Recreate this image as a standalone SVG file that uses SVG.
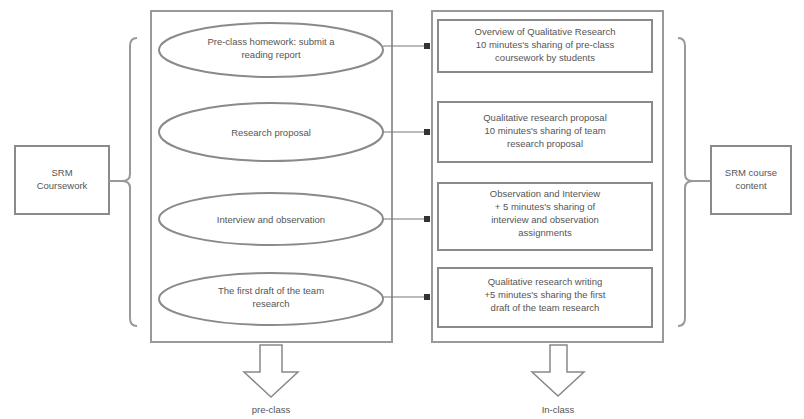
<svg xmlns="http://www.w3.org/2000/svg" width="804" height="419" viewBox="0 0 804 419">
<defs>
<style>
.box{fill:#fff;stroke:#8a8a8a;stroke-width:2}
.panel{fill:#fff;stroke:#999;stroke-width:2}
.ell{fill:#fff;stroke:#8a8a8a;stroke-width:2}
.t{font-family:"Liberation Sans",Arial,sans-serif;font-size:9.5px;fill:#555;text-anchor:middle}
.brace{fill:none;stroke:#999;stroke-width:2}
.con{fill:none;stroke:#777;stroke-width:1.2}
.darrow{fill:#fff;stroke:#888;stroke-width:1.5}
</style>
<marker id="sq" viewBox="0 0 6 6" refX="6" refY="3" markerWidth="6" markerHeight="6" markerUnits="userSpaceOnUse" orient="auto">
<rect x="0" y="0" width="6" height="6" fill="#333"/>
</marker>
</defs>
<rect width="804" height="419" fill="#fff"/>

<g id="srm-coursework">
<rect class="box" x="15" y="146" width="94" height="68"/>
<text class="t" x="62" y="176">SRM</text>
<text class="t" x="62" y="189">Coursework</text>
</g>

<g id="left-brace">
<path class="brace" d="M137,38 Q130,38 130,46 L130,174 Q130,181 122,181 Q130,181 130,188 L130,318 Q130,326 137,326"/>
<line class="brace" x1="109" y1="181" x2="122" y2="181"/>
</g>

<g id="pre-class-panel">
<rect class="panel" x="151" y="11" width="241" height="331"/>
</g>

<g id="e1">
<ellipse class="ell" cx="271" cy="50" rx="112" ry="27"/>
<text class="t" x="271" y="45">Pre-class homework: submit a</text>
<text class="t" x="271" y="58">reading report</text>
</g>
<g id="e2">
<ellipse class="ell" cx="271" cy="132" rx="112" ry="29"/>
<text class="t" x="271" y="136">Research proposal</text>
</g>
<g id="e3">
<ellipse class="ell" cx="271" cy="219" rx="112" ry="26"/>
<text class="t" x="271" y="223">Interview and observation</text>
</g>
<g id="e4">
<ellipse class="ell" cx="271" cy="299" rx="112" ry="26"/>
<text class="t" x="271" y="294">The first draft of the team</text>
<text class="t" x="271" y="307">research</text>
</g>

<g id="in-class-panel">
<rect class="panel" x="432" y="11" width="231" height="331"/>
</g>

<g id="b1">
<rect class="box" x="438" y="20" width="214" height="52"/>
<text class="t" x="545" y="35">Overview of Qualitative Research</text>
<text class="t" x="545" y="48">10 minutes's sharing of pre-class</text>
<text class="t" x="545" y="61">coursework by students</text>
</g>
<g id="b2">
<rect class="box" x="438" y="102" width="214" height="60"/>
<text class="t" x="545" y="121">Qualitative research proposal</text>
<text class="t" x="545" y="134">10 minutes's sharing of team</text>
<text class="t" x="545" y="147">research proposal</text>
</g>
<g id="b3">
<rect class="box" x="438" y="183" width="214" height="67"/>
<text class="t" x="545" y="197">Observation and Interview</text>
<text class="t" x="545" y="210">+ 5 minutes's sharing of</text>
<text class="t" x="545" y="223">interview and observation</text>
<text class="t" x="545" y="236">assignments</text>
</g>
<g id="b4">
<rect class="box" x="438" y="268" width="214" height="59"/>
<text class="t" x="545" y="285">Qualitative research writing</text>
<text class="t" x="545" y="298">+5 minutes's sharing the first</text>
<text class="t" x="545" y="311">draft of the team research</text>
</g>

<g id="connectors">
<line class="con" x1="383" y1="46" x2="430" y2="46" marker-end="url(#sq)"/>
<line class="con" x1="383" y1="132" x2="430" y2="132" marker-end="url(#sq)"/>
<line class="con" x1="383" y1="219" x2="430" y2="219" marker-end="url(#sq)"/>
<line class="con" x1="383" y1="297" x2="430" y2="297" marker-end="url(#sq)"/>
</g>

<g id="right-brace">
<path class="brace" d="M678,38 Q685,38 685,46 L685,174 Q685,181 693,181 Q685,181 685,188 L685,318 Q685,326 678,326"/>
<line class="brace" x1="693" y1="181" x2="710" y2="181"/>
</g>

<g id="srm-course-content">
<rect class="box" x="711" y="146" width="80" height="68"/>
<text class="t" x="751" y="176">SRM course</text>
<text class="t" x="751" y="189">content</text>
</g>

<g id="arrow-pre">
<path class="darrow" d="M260,345 L282,345 L282,372 L298,372 L271,397 L244,372 L260,372 Z"/>
<text class="t" x="271" y="413">pre-class</text>
</g>
<g id="arrow-in">
<path class="darrow" d="M550,345 L567,345 L567,372 L584,372 L558,396 L532,372 L550,372 Z"/>
<text class="t" x="558" y="413">In-class</text>
</g>
</svg>
